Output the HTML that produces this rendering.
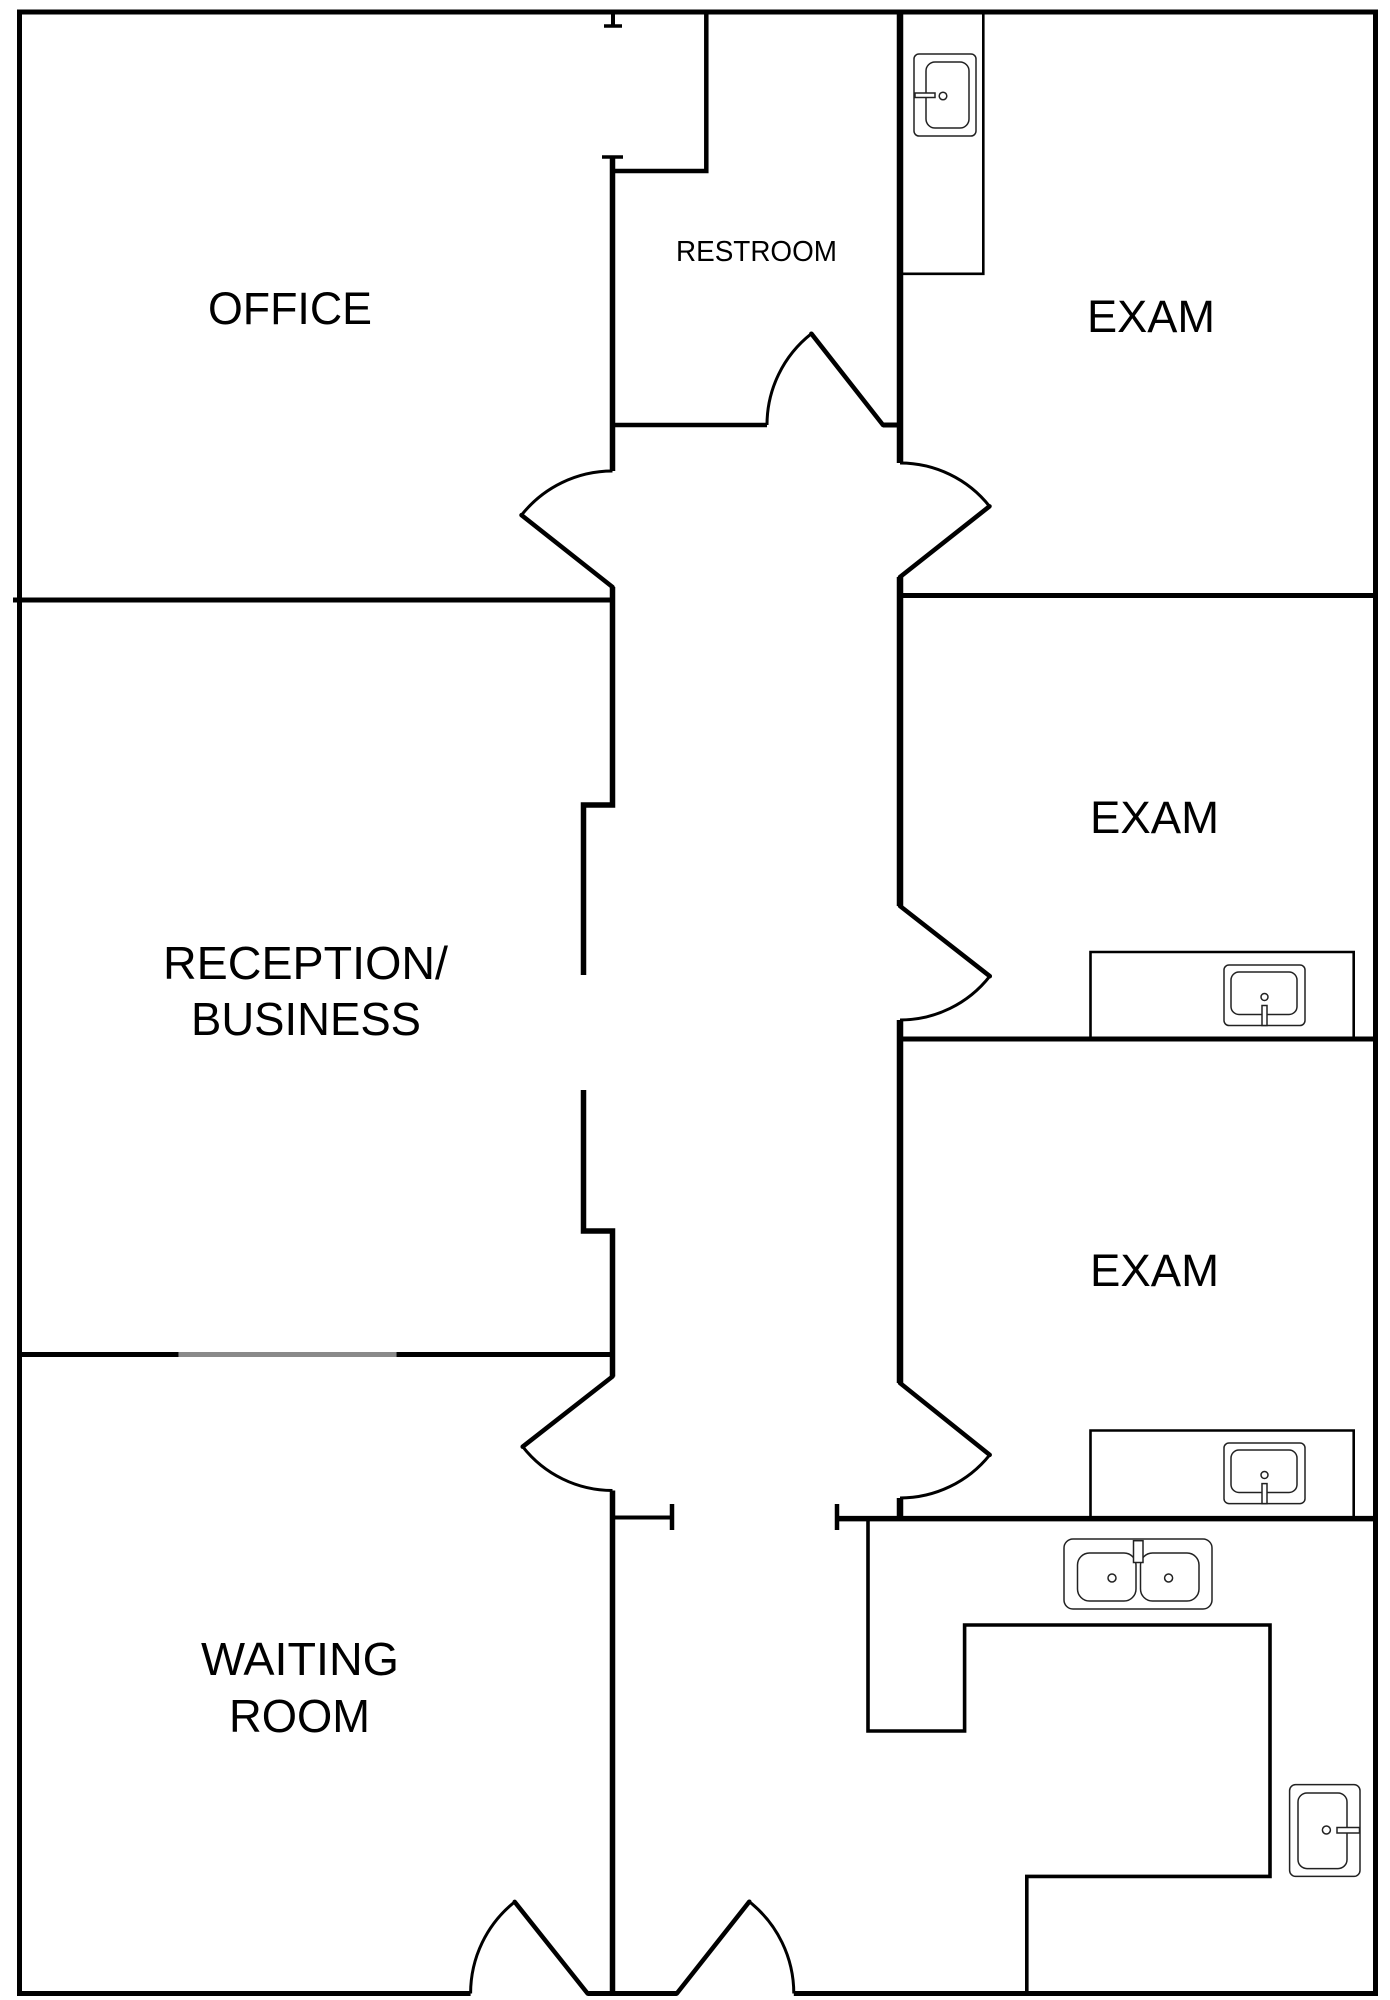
<!DOCTYPE html>
<html>
<head>
<meta charset="utf-8">
<style>
html,body{margin:0;padding:0;background:#fff;}
svg{display:block;}
text{font-family:"Liberation Sans", Arial, sans-serif;fill:#000;}
</style>
</head>
<body>
<svg width="1390" height="2000" viewBox="0 0 1390 2000" xmlns="http://www.w3.org/2000/svg">
<rect x="0" y="0" width="1390" height="2000" fill="#fff"/>
<g fill="none" stroke="#000" stroke-linejoin="miter">
  <!-- outer walls -->
  <path d="M17,12 H1378 M19.5,12 V1996 M1375.5,12 V1996" stroke-width="5"/>
  <path d="M17,1993.5 H470.6 M587.6,1993.5 H676.8 M793.8,1993.5 H1378" stroke-width="5"/>

  <!-- top tick / opening into office -->
  <path d="M613,12 V26" stroke-width="4"/>
  <path d="M604,26 H622" stroke-width="3.5"/>
  <path d="M602,157 H623" stroke-width="3.5"/>

  <!-- left corridor wall -->
  <path d="M612.5,157 V471 M612.5,587 V805 H583.5 V975 M583.5,1090 V1231 H612.5 V1376.5 M612.5,1490.5 V1993" stroke-width="5.5"/>

  <!-- restroom walls -->
  <path d="M612.5,171 H706.3 V12" stroke-width="4.5"/>
  <path d="M612.5,425 H767" stroke-width="4.5"/>
  <path d="M883,425 H900" stroke-width="5"/>

  <!-- right corridor wall -->
  <path d="M900,12 V463 M900,577 V906 M900,1020 V1383 M900,1498 V1519" stroke-width="6.5"/>

  <!-- room dividing walls -->
  <path d="M13,600 H612.5" stroke-width="5"/>
  <path d="M900,595.5 H1375.5" stroke-width="5"/>
  <path d="M900,1039 H1375.5" stroke-width="5"/>
  <path d="M19.5,1354.5 H178.6 M396.4,1354.5 H612.5" stroke-width="5"/>
  <path d="M178.6,1354.5 H396.4" stroke="#8a8a8a" stroke-width="5"/>
  <path d="M837,1518.6 H1375.5" stroke-width="5.5"/>

  <!-- stubs with caps -->
  <path d="M612.5,1517.5 H672" stroke-width="4"/>
  <path d="M672,1504 V1530" stroke-width="4.5"/>
  <path d="M837,1504 V1530" stroke-width="4.5"/>

  <!-- doors: leaves -->
  <g stroke-width="4.5" stroke-linecap="round">
    <path d="M811.4,333.7 L883,425"/>
    <path d="M521.5,515.1 L612.5,587"/>
    <path d="M989.5,506.3 L900,577"/>
    <path d="M989.8,976.2 L900,906"/>
    <path d="M522.7,1446.7 L612.5,1376.5"/>
    <path d="M989.7,1454.9 L900,1383"/>
    <path d="M514.7,1901.9 L587.6,1993.5"/>
    <path d="M749.3,1901.7 L676.8,1993.5"/>
  </g>
  <!-- doors: swings -->
  <g stroke-width="3">
    <path d="M767,425 A116,116 0 0 1 811.4,333.7"/>
    <path d="M612.5,471 A116,116 0 0 0 521.5,515.1"/>
    <path d="M900,463 A114,114 0 0 1 989.5,506.3"/>
    <path d="M989.8,976.2 A114,114 0 0 1 900,1020"/>
    <path d="M522.7,1446.7 A114,114 0 0 0 612.5,1490.5"/>
    <path d="M989.7,1454.9 A115,115 0 0 1 900,1498"/>
    <path d="M470.6,1993.5 A117,117 0 0 1 514.7,1901.9"/>
    <path d="M749.3,1901.7 A117,117 0 0 1 793.8,1993.5"/>
  </g>

  <!-- counters -->
  <path d="M900,273.8 H983.3 V12" stroke-width="2.6"/>
  <path d="M1090.5,1039 V952 H1353.7 V1039" stroke-width="2.6"/>
  <path d="M1090.5,1519 V1430.5 H1353.7 V1519" stroke-width="2.6"/>

  <!-- lab counter -->
  <path d="M868,1519 V1731 H964.6 V1625 H1270 V1876.4 H1026.8 V1993" stroke-width="3.6"/>
</g>

<!-- sinks -->
<g fill="none" stroke="#222" stroke-width="1.5">
  <!-- exam 1 sink -->
  <rect x="914" y="54" width="62" height="82" rx="5"/>
  <rect x="926" y="62" width="43" height="66" rx="9"/>
  <rect x="915" y="93" width="20" height="4.5" fill="#fff"/>
  <circle cx="943" cy="96" r="3.8"/>

  <!-- exam 2 sink -->
  <rect x="1224" y="965" width="81" height="60.5" rx="5"/>
  <rect x="1231" y="972" width="66" height="42.5" rx="8"/>
  <rect x="1262" y="1005.5" width="5" height="20" fill="#fff"/>
  <circle cx="1264.5" cy="997" r="3.5"/>

  <!-- exam 3 sink -->
  <rect x="1224" y="1443" width="81" height="60.6" rx="5"/>
  <rect x="1231" y="1450" width="66" height="42.5" rx="8"/>
  <rect x="1262" y="1483.6" width="5" height="20" fill="#fff"/>
  <circle cx="1264.5" cy="1475" r="3.5"/>

  <!-- double sink -->
  <rect x="1064" y="1539" width="148" height="70" rx="9"/>
  <rect x="1077.5" y="1553" width="58.5" height="48" rx="12"/>
  <rect x="1140.5" y="1553" width="58.5" height="48" rx="12"/>
  <rect x="1133.5" y="1540.7" width="9.5" height="21.8" fill="#fff"/>
  <circle cx="1112" cy="1578" r="4"/>
  <circle cx="1168.6" cy="1578" r="4"/>

  <!-- right lab sink -->
  <rect x="1289.6" y="1784.6" width="70.4" height="91.8" rx="6"/>
  <rect x="1298" y="1793" width="49" height="75.6" rx="9"/>
  <rect x="1337" y="1827.5" width="22.5" height="5.5" fill="#fff"/>
  <circle cx="1326.4" cy="1830" r="4"/>
</g>

<!-- labels -->
<text x="208" y="324" font-size="45" textLength="164" lengthAdjust="spacingAndGlyphs">OFFICE</text>
<text x="676" y="261" font-size="29" textLength="161" lengthAdjust="spacingAndGlyphs">RESTROOM</text>
<text x="1087" y="332" font-size="45" textLength="128" lengthAdjust="spacingAndGlyphs">EXAM</text>
<text x="1090" y="833" font-size="45" textLength="129" lengthAdjust="spacingAndGlyphs">EXAM</text>
<text x="1090" y="1286" font-size="45" textLength="129" lengthAdjust="spacingAndGlyphs">EXAM</text>
<text x="163" y="979" font-size="46" textLength="285" lengthAdjust="spacingAndGlyphs">RECEPTION/</text>
<text x="191" y="1035" font-size="46" textLength="230" lengthAdjust="spacingAndGlyphs">BUSINESS</text>
<text x="201" y="1675" font-size="46" textLength="198" lengthAdjust="spacingAndGlyphs">WAITING</text>
<text x="229" y="1732" font-size="46" textLength="141" lengthAdjust="spacingAndGlyphs">ROOM</text>
</svg>
</body>
</html>
